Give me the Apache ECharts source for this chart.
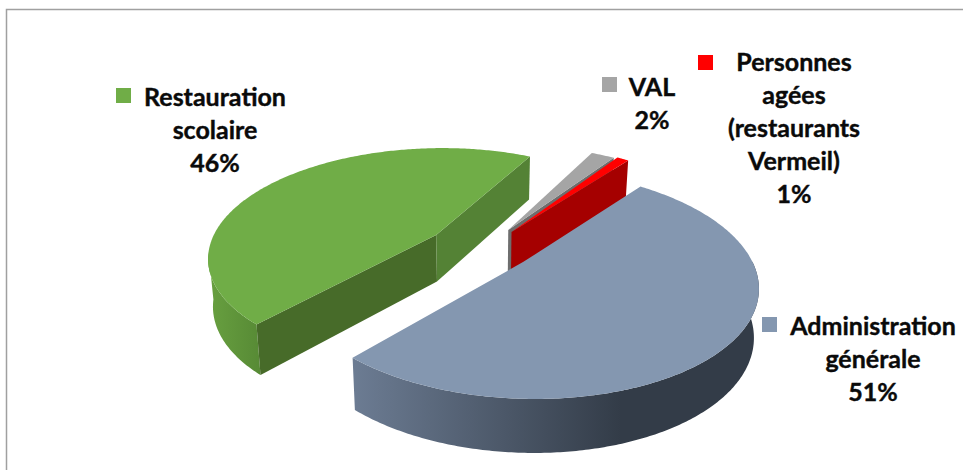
<!DOCTYPE html>
<html><head><meta charset="utf-8">
<style>html,body{margin:0;padding:0;background:#fff}#c{width:963px;height:470px}svg text{font-variant-ligatures:none;font-kerning:normal}</style>
<script src="https://cdn.jsdelivr.net/npm/echarts@6/dist/echarts.min.js"></script>
</head><body><div id="c"></div>
<script>
// data
var categories = ['Restauration\nscolaire', 'Administration\ngénérale', 'Personnes\nagées\n(restaurants\nVermeil)', 'VAL'];
var shares = [46, 51, 1, 2];
var tops = ['#70AD47', '#8497B0', '#FF0000', '#A5A5A5'];

// camera of the fake-3D pie
var cam = {cx: 475, cy: 251, horizon: -309, k: 0.19, f: 216, wall0: 43, wallSlope: 0.045, lean: -0.018, startDeg: 228};
// per-slice look, same order as categories
var offsetX = [-0.185, 0.22, 0.175, 0.16];
var offsetY = [0.155, -0.10, 0.185, 0.205];
var radiusX = [1.06, 1.04, 1.08, 1.07];
var radiusY = [1.03, 1.00, 1.06, 1.03];
var keys = [[116, 88], [762, 317], [698, 55], [602, 77]];
var labelAt = [[215, 79], [873, 308], [794, 44], [652, 69]];
var order = [3, 2, 1, 0];

function spans() {
  var seq = [1, 2, 3, 0], a = cam.startDeg, out = {}, tot = shares.reduce(function (s, v) { return s + v; }, 0);
  seq.forEach(function (i) { var d = shares[i] / tot * 360; out[i] = [a, a + d]; a += d; });
  return out;
}
function project(X, Y) {
  var w = 1 + cam.k * Y, C = cam.cy - cam.horizon;
  return [cam.cx + cam.f * X / w, cam.horizon + C / w];
}
function drop(p) {
  var hgt = cam.wall0 + cam.wallSlope * (p[1] - 155);
  return [p[0] + (p[0] - 480) * cam.lean, p[1] + hgt];
}
function slicePts(i, s) {
  var ox = offsetX[i], oy = offsetY[i];
  var arc = [], n = Math.max(8, Math.round((s[1] - s[0]) * 1.5));
  for (var j = 0; j <= n; j++) {
    var t = (s[0] + (s[1] - s[0]) * j / n) * Math.PI / 180;
    arc.push(project(ox + radiusX[i] * Math.cos(t), oy + radiusY[i] * Math.sin(t)));
  }
  return {apex: project(ox, oy), arc: arc};
}
function poly(points, fill, z) {
  return {type: 'polygon', shape: {points: points}, style: {fill: fill}, z2: z};
}
function wallStrip(pts) { return pts.concat(pts.map(drop).reverse()); }
function hGrad(stops) {
  return new echarts.graphic.LinearGradient(0, 0, 1, 0, stops.map(function (s) { return {offset: s[0], color: s[1]}; }));
}
var wallColors = [
  {near: '#476B29', far: '#548235', outer: [[0, '#68A040'], [1, '#578A35']]},
  {outer: [[0, '#6C7C93'], [0.66, '#333C48'], [1, '#333C48']]},
  {face: '#A50000'},
  {face: '#6E6E6E'}
];
var S = spans();
function drawSlice(i) {
  var s = S[i], g = slicePts(i, s), kids = [];
  var n = g.arc.length, first = g.arc[0], last = g.arc[n - 1];
  if (i === 0) {
    var vis = g.arc.filter(function (p, idx) { return idx > n * 0.76; });
    kids.push(poly(wallStrip(vis), hGrad(wallColors[0].outer), 1));
    kids.push(poly(wallStrip([g.apex, last]), wallColors[0].near, 2));
    kids.push(poly(wallStrip([g.apex, first]), wallColors[0].far, 2));
  } else if (i === 1) {
    var front = g.arc.filter(function (p, idx) { return idx < n * 0.72; });
    kids.push(poly(wallStrip(front), hGrad(wallColors[1].outer), 1));
  } else {
    kids.push(poly(wallStrip([g.apex, first]), wallColors[i].face, 1));
  }
  kids.push(poly([g.apex].concat(g.arc), tops[i], 3));
  return {type: 'group', children: kids};
}
function renderLabel(params) {
  var i = params.dataIndex;
  return {type: 'group', children: [
    {type: 'rect', shape: {x: keys[i][0], y: keys[i][1], width: 15, height: 15}, style: {fill: tops[i]}},
    {type: 'text', style: {x: labelAt[i][0], y: labelAt[i][1], text: categories[i] + '\n' + shares[i] + '%', align: 'center', verticalAlign: 'top',
      font: 'bold 25px Lato', lineHeight: 33, fill: '#0A0A0A', stroke: '#0A0A0A', lineWidth: 0.4}}
  ]};
}
var chart = echarts.init(document.getElementById('c'), null, {renderer: 'svg'});
chart.setOption({
  animation: false,
  graphic: [{type: 'rect', shape: {x: 6.5, y: 9.5, width: 970, height: 480}, style: {fill: 'none', stroke: '#A0A0A0', lineWidth: 1.5}, silent: true}],
  series: [
    {type: 'custom', coordinateSystem: 'none', data: order.slice(), clip: false,
     renderItem: function (p) { return drawSlice(order[p.dataIndex]); }},
    {type: 'custom', coordinateSystem: 'none', data: categories.slice(), renderItem: renderLabel}
  ]
});
</script></body></html>
